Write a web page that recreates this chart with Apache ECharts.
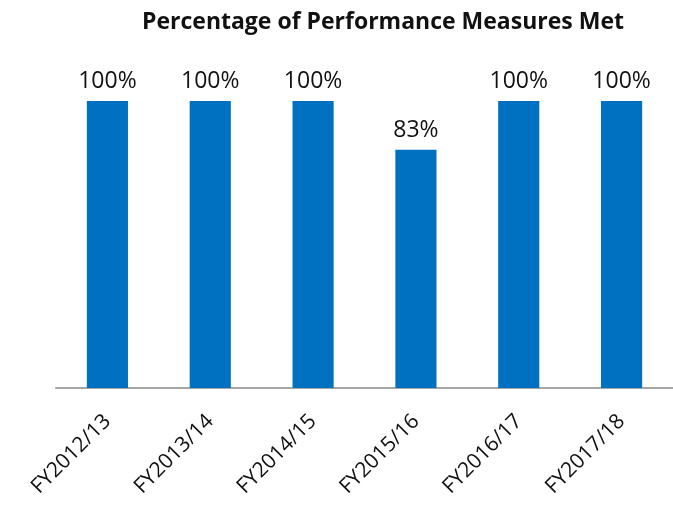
<!DOCTYPE html>
<html>
<head>
<meta charset="utf-8">
<script src="https://cdn.jsdelivr.net/npm/echarts@6/dist/echarts.min.js"></script>
<style>
  html, body { margin: 0; padding: 0; background: #fff; }
  #main { width: 673px; height: 506px; }
</style>
</head>
<body>
<div id="main"></div>
<script>
// chart data
const years = ['FY2012/13', 'FY2013/14', 'FY2014/15', 'FY2015/16', 'FY2016/17', 'FY2017/18']
const metPct = [100, 100, 100, 83, 100, 100]

const chart = echarts.init(document.getElementById('main'))

chart.setOption({
  animation: false,
  title: {
    text: 'Percentage of Performance Measures Met',
    left: 378,
    top: 6,
    textAlign: 'center',
    textStyle: { fontFamily: 'Open Sans', fontWeight: 'bold', fontSize: 23, color: '#111' }
  },
  grid: { left: 56, right: -4, top: 101, bottom: 118 },
  xAxis: {
    type: 'category',
    data: years,
    axisLine: { lineStyle: { color: '#a6a6a6', width: 2 } },
    axisTick: { show: false },
    axisLabel: {
      rotate: 45,
      margin: 30,
      interval: 0,
      fontFamily: 'Open Sans',
      fontSize: 21,
      color: '#111'
    }
  },
  yAxis: {
    type: 'value',
    min: 0,
    max: 100,
    show: false
  },
  series: [{
    type: 'bar',
    data: metPct,
    barWidth: '40%',
    itemStyle: { color: '#0070c0' },
    label: {
      show: true,
      position: 'top',
      distance: 8,
      formatter: '{c}%',
      fontFamily: 'Open Sans',
      fontSize: 23,
      color: '#111'
    }
  }]
})
</script>
</body>
</html>
